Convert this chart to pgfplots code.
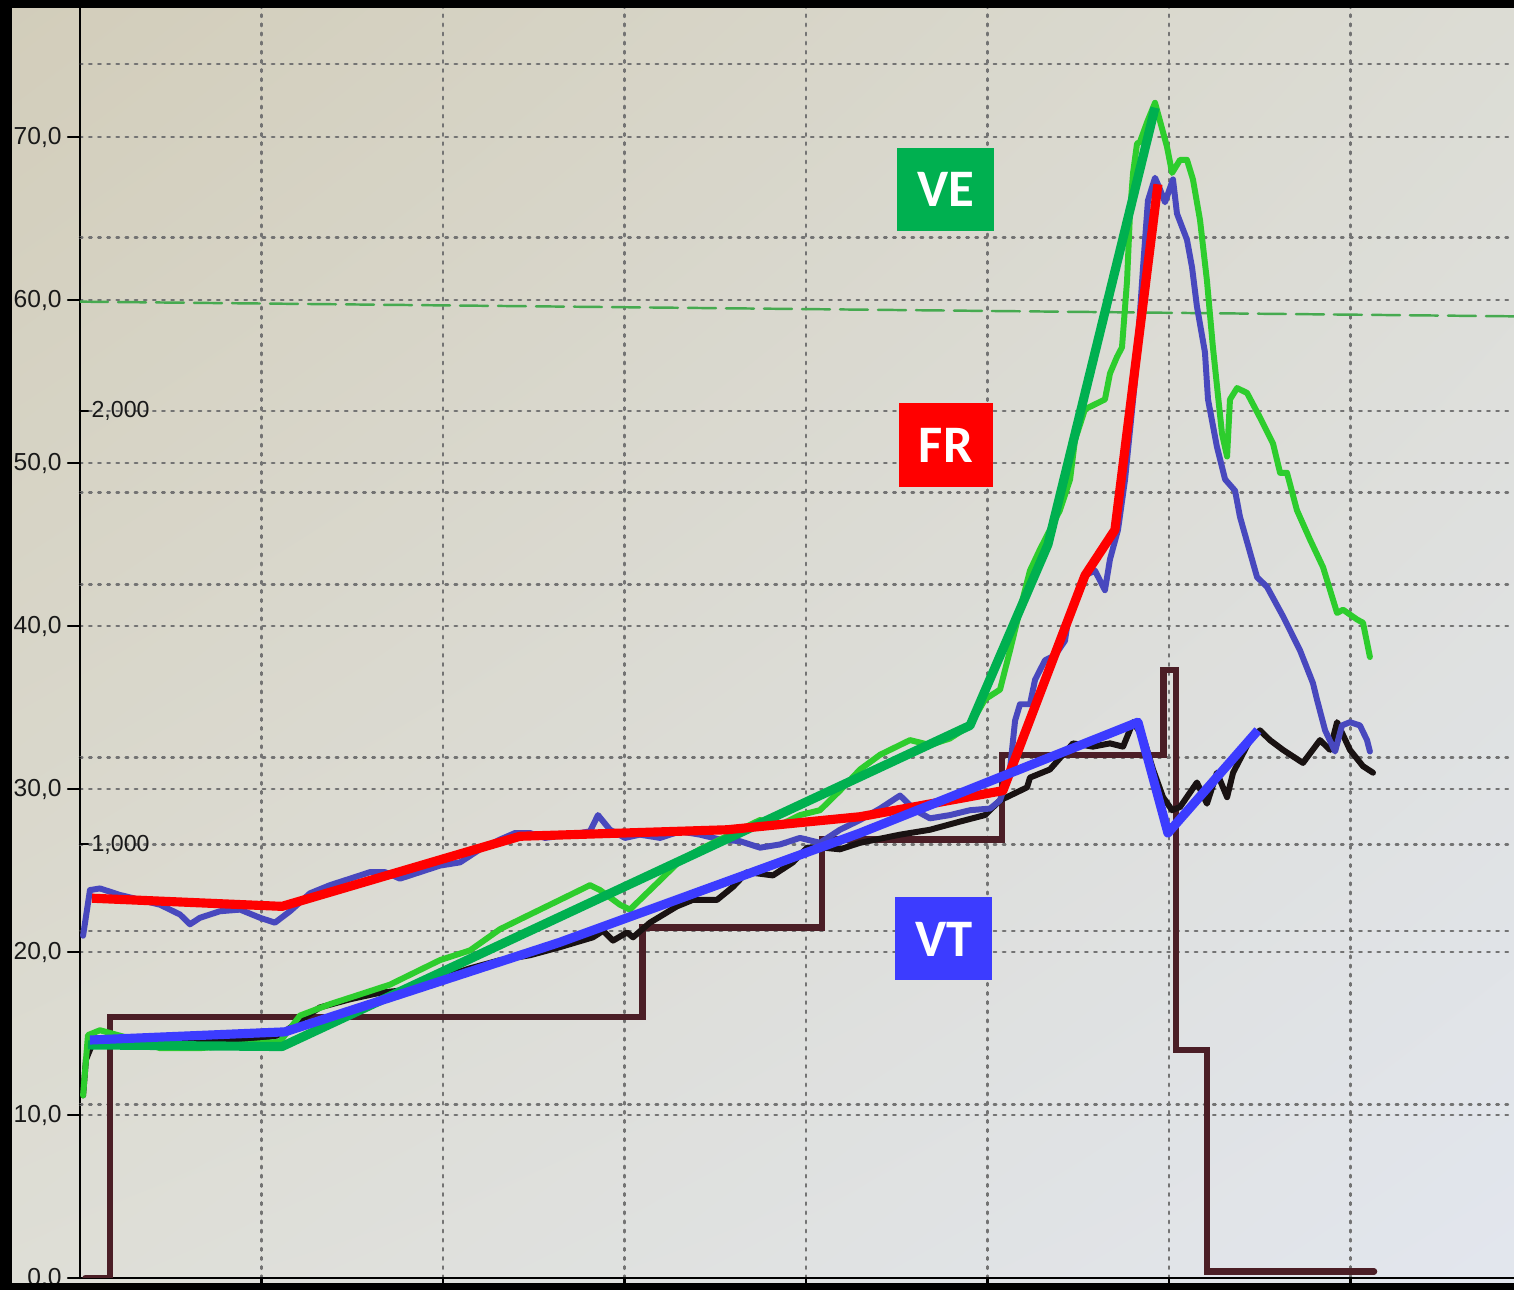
\documentclass[border=0pt]{standalone}
\usepackage{pgfplots}
\pgfplotsset{compat=1.18}
\usetikzlibrary{shadings}
\usepackage{fontspec}
\setmainfont{Liberation Sans}
\newfontfamily\tickfont{Liberation Sans}
\newfontfamily\boxfont{Carlito}
\definecolor{bgUL}{RGB}{210,205,186}
\definecolor{bgUR}{RGB}{220,220,212}
\definecolor{bgLL}{RGB}{222,222,214}
\definecolor{bgLR}{RGB}{226,230,238}
\definecolor{stepbrown}{RGB}{75,30,38}
\definecolor{vtblack}{RGB}{25,18,18}
\definecolor{frblue}{RGB}{72,72,190}
\definecolor{vegreen}{RGB}{45,205,45}
\definecolor{thickgreen}{RGB}{0,176,80}
\definecolor{thickred}{RGB}{255,0,0}
\definecolor{thickblue}{RGB}{60,60,255}
\definecolor{gridgray}{RGB}{115,115,115}
\definecolor{dashgreen}{RGB}{70,170,80}
\begin{document}
\begin{tikzpicture}
\useasboundingbox (-0.80,-0.12) rectangle (14.34,12.78);
\shade[upper left=bgUL, upper right=bgUR, lower left=bgLL, lower right=bgLR] (-0.80,-0.12) rectangle (14.34,12.78);
\begin{axis}[
  x=1.815cm, y=0.163cm,
  xmin=0, xmax=7.90, ymin=0, ymax=78.4,
  axis x line=bottom, axis y line=left,
  axis line style={-, black, line width=0.6pt},
  xtick={1,2,3,4,5,6,7}, xticklabels={},
  ytick={0,10,20,30,40,50,60,70},
  yticklabels={{0,0},{10,0},{20,0},{30,0},{40,0},{50,0},{60,0},{70,0}},
  yticklabel style={font=\tickfont\fontsize{7}{8}\selectfont, text=black!90, xshift=0.06cm},
  tick style={black, line width=0.6pt},
  major tick length=0.12cm, tick align=outside,
  grid=major,
  major grid style={gridgray, line width=0.7pt, dash pattern=on 0.7pt off 1.9pt},
  extra y ticks={10.64,21.28,26.6,31.92,42.56,48.2,53.2,63.84,74.48},
  extra y tick labels={},
  extra y tick style={grid=major, major tick length=0pt},
  clip mode=individual,
  line join=round, line cap=round,
]
% green dashed reference line
\addplot[dashgreen, line width=0.7pt, dash pattern=on 0.28cm off 0.1cm] coordinates {(0,59.9) (7.9,59.0)};
% step (load)
\addplot[stepbrown, line width=1.8pt, const plot, line join=miter] coordinates {
(0.03,0) (0.165,16.0) (3.10,21.5) (4.09,26.9) (5.08,32.1) (5.97,37.3) (6.04,14.0) (6.21,0.4) (7.13,0.4)};
% VT measured (black)
\addplot[vtblack, line width=1.7pt] coordinates {
(0.017,11.2)(0.033,13.4)(0.066,14.3)(0.165,14.5)(0.386,14.5)(0.661,14.6)(0.937,14.6)(1.102,14.9)(1.212,15.8)(1.322,16.6)(1.488,17.1)(1.653,17.5)(1.818,17.7)(1.983,18.4)(2.149,19.0)(2.314,19.5)(2.479,19.8)(2.645,20.3)(2.826,20.9)(2.882,21.3)(2.937,20.7)(3.014,21.2)(3.047,20.9)(3.140,21.8)(3.289,22.8)(3.377,23.2)(3.510,23.2)(3.598,24.0)(3.675,24.9)(3.818,24.7)(3.928,25.5)(4.006,26.4)(4.094,26.4)(4.187,26.3)(4.298,26.7)(4.518,27.2)(4.683,27.5)(4.848,28.0)(4.986,28.4)(5.069,29.3)(5.218,30.1)(5.234,30.7)(5.344,31.2)(5.471,32.8)(5.581,32.6)(5.675,32.8)(5.747,32.6)(5.802,34.1)(5.857,33.2)(5.912,31.2)(5.967,29.5)(6.017,28.7)(6.061,28.9)(6.154,30.4)(6.209,29.1)(6.264,31.0)(6.320,29.5)(6.353,31.0)(6.446,33.0)(6.501,33.6)(6.556,33.0)(6.628,32.4)(6.738,31.6)(6.832,33.0)(6.887,32.4)(6.926,34.1)(6.997,32.4)(7.069,31.4)(7.124,31.0)};
% FR measured (blue)
\addplot[frblue, line width=1.7pt] coordinates {
(0.017,21.0)(0.055,23.8)(0.110,23.9)(0.220,23.5)(0.331,23.2)(0.441,22.9)(0.551,22.3)(0.606,21.7)(0.661,22.1)(0.771,22.5)(0.882,22.6)(0.992,22.1)(1.074,21.8)(1.157,22.5)(1.267,23.6)(1.377,24.1)(1.488,24.5)(1.598,24.9)(1.680,24.9)(1.763,24.5)(1.873,24.9)(1.983,25.3)(2.094,25.5)(2.204,26.3)(2.314,26.9)(2.397,27.3)(2.479,27.3)(2.562,27.0)(2.700,27.2)(2.810,27.4)(2.854,28.4)(2.920,27.5)(3.003,27.0)(3.085,27.2)(3.196,27.0)(3.306,27.4)(3.416,27.2)(3.526,26.9)(3.636,26.8)(3.747,26.4)(3.857,26.6)(3.967,27.0)(4.077,26.7)(4.187,27.5)(4.298,28.1)(4.408,28.8)(4.518,29.6)(4.601,28.7)(4.683,28.2)(4.793,28.4)(4.904,28.7)(5.014,28.8)(5.069,29.3)(5.124,31.2)(5.152,34.2)(5.179,35.2)(5.234,35.2)(5.262,36.7)(5.317,37.9)(5.372,38.2)(5.427,39.1)(5.444,40.4)(5.482,41.6)(5.537,43.1)(5.592,43.4)(5.647,42.2)(5.675,44.1)(5.719,45.9)(5.758,49.0)(5.785,52.0)(5.813,55.1)(5.840,59.2)(5.857,62.0)(5.884,66.1)(5.923,67.5)(5.950,66.8)(5.978,66.0)(6.022,67.4)(6.044,65.3)(6.099,63.7)(6.127,62.0)(6.154,59.6)(6.198,56.8)(6.215,53.9)(6.264,51.0)(6.309,49.0)(6.364,48.3)(6.391,46.7)(6.485,43.0)(6.540,42.4)(6.628,40.6)(6.722,38.5)(6.793,36.5)(6.815,35.5)(6.860,33.6)(6.915,32.3)(6.953,33.9)(6.997,34.1)(7.052,33.9)(7.091,33.0)(7.107,32.3)};
% VE measured (green)
\addplot[vegreen, line width=1.7pt] coordinates {
(0.017,11.2)(0.044,14.9)(0.110,15.2)(0.275,14.7)(0.441,14.1)(0.661,14.1)(0.882,14.3)(1.102,14.5)(1.212,16.1)(1.377,16.8)(1.543,17.4)(1.708,18.0)(1.873,18.9)(1.983,19.5)(2.149,20.1)(2.314,21.4)(2.479,22.3)(2.645,23.2)(2.810,24.1)(2.865,23.8)(2.975,22.9)(3.030,22.6)(3.085,23.2)(3.196,24.4)(3.306,25.6)(3.416,26.3)(3.526,26.9)(3.636,27.5)(3.747,28.1)(3.857,27.8)(3.967,28.4)(4.077,28.7)(4.187,29.9)(4.298,31.2)(4.408,32.1)(4.518,32.7)(4.573,33.0)(4.683,32.7)(4.793,33.1)(4.904,33.9)(4.986,35.5)(5.069,36.1)(5.124,38.5)(5.179,41.0)(5.234,43.4)(5.289,44.7)(5.344,45.9)(5.399,47.1)(5.455,49.0)(5.482,51.4)(5.537,53.3)(5.592,53.6)(5.647,53.9)(5.675,55.5)(5.713,56.5)(5.741,57.1)(5.769,61.2)(5.785,65.3)(5.802,67.8)(5.824,69.6)(5.840,69.7)(5.879,70.9)(5.923,72.1)(5.950,71.0)(5.989,69.4)(6.017,67.8)(6.061,68.6)(6.099,68.6)(6.132,67.4)(6.171,64.9)(6.209,61.2)(6.242,57.1)(6.292,51.8)(6.320,50.4)(6.336,53.9)(6.375,54.6)(6.430,54.3)(6.501,52.8)(6.573,51.2)(6.612,49.4)(6.650,49.4)(6.705,47.1)(6.777,45.3)(6.849,43.6)(6.926,40.8)(6.959,41.0)(7.036,40.4)(7.069,40.2)(7.107,38.1)};
% thick annotation lines
\addplot[thickgreen, line width=2.6pt, line cap=butt] coordinates {
(0.044,14.3)(1.113,14.2)(4.904,33.9)(5.333,45.0)(5.923,71.8)};
\addplot[thickred, line width=2.6pt, line cap=butt] coordinates {
(0.066,23.3)(1.113,22.8)(2.424,27.1)(3.565,27.5)(4.298,28.3)(5.085,29.9)(5.537,43.1)(5.702,45.9)(5.939,67.1)};
\addplot[thickblue, line width=2.6pt, line cap=butt] coordinates {
(0.055,14.6)(1.129,15.1)(2.645,20.6)(4.298,27.3)(5.829,34.1)(5.994,27.3)(6.490,33.6)};
% secondary scale labels
\draw[black, line width=0.6pt] (axis cs:0,53.2) -- (axis cs:0.045,53.2);
\node[anchor=west, inner sep=0.5pt, font=\tickfont\fontsize{6.6}{8}\selectfont, text=black!90] at (axis cs:0.05,53.2) {2,000};
\draw[black, line width=0.6pt] (axis cs:0,26.6) -- (axis cs:0.045,26.6);
\node[anchor=west, inner sep=0.5pt, font=\tickfont\fontsize{6.6}{8}\selectfont, text=black!90] at (axis cs:0.05,26.6) {1,000};
% label boxes
\node[fill=thickgreen, text=white, font=\boxfont\bfseries\fontsize{15}{16}\selectfont, minimum width=0.97cm, minimum height=0.83cm, inner sep=0pt] at (axis cs:4.77,66.8) {VE};
\node[fill=thickred, text=white, font=\boxfont\bfseries\fontsize{15}{16}\selectfont, minimum width=0.94cm, minimum height=0.84cm, inner sep=0pt] at (axis cs:4.77,51.1) {FR};
\node[fill=thickblue, text=white, font=\boxfont\bfseries\fontsize{15}{16}\selectfont, minimum width=0.97cm, minimum height=0.83cm, inner sep=0pt] at (axis cs:4.76,20.8) {VT};
\end{axis}
\fill[black] (-0.80,-0.12) rectangle (-0.68,12.78);
\fill[black] (-0.80,12.70) rectangle (14.34,12.78);
\fill[black] (-0.80,-0.12) rectangle (14.34,-0.05);
\end{tikzpicture}
\end{document}
